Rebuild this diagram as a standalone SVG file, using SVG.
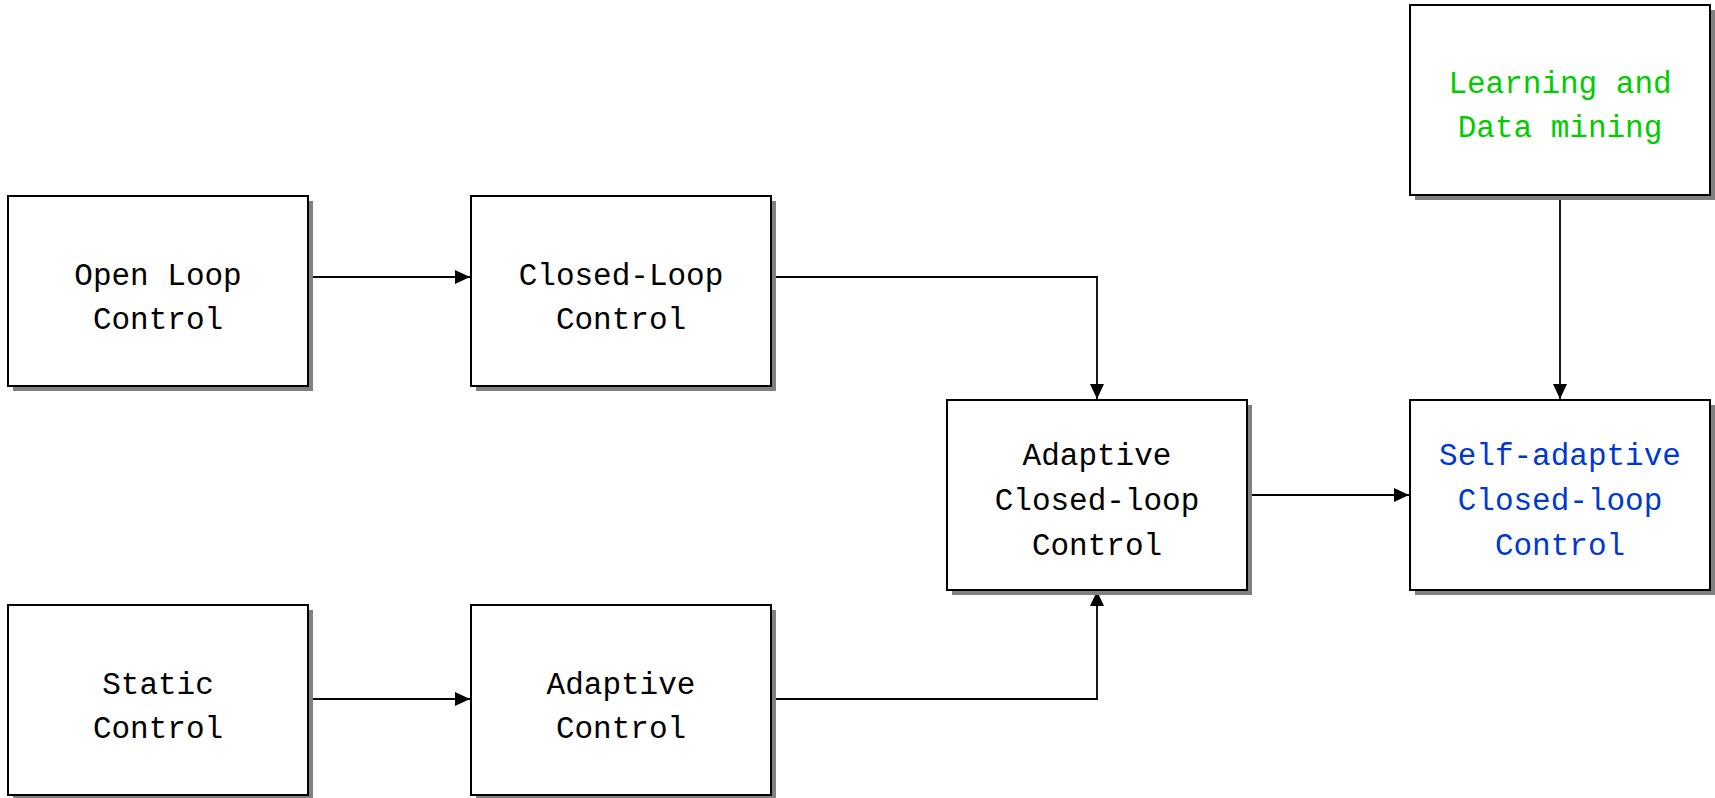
<svg xmlns="http://www.w3.org/2000/svg" width="1715" height="798" viewBox="0 0 1715 798">
<style>
.shadow{fill:#808080;stroke:none}
.box{fill:#ffffff;stroke:#000000;stroke-width:2}
.t{font-family:"Liberation Mono","DejaVu Sans Mono",monospace;font-size:31px;text-anchor:middle;fill:#000000}
.green{fill:#00cc00}
.blue{fill:#0038d0}
.conn{fill:none;stroke:#000000;stroke-width:1.8}
</style>
<defs>
<marker id="arrow" markerUnits="userSpaceOnUse" markerWidth="16" markerHeight="14" refX="15" refY="7" orient="auto">
<path d="M0,0 L15,7 L0,14 z" fill="#000000"/>
</marker>
</defs>
<g id="connectors">
<path class="conn" d="M308,277 H470" marker-end="url(#arrow)"/>
<path class="conn" d="M771,277 H1097 V399" marker-end="url(#arrow)"/>
<path class="conn" d="M308,699 H470" marker-end="url(#arrow)"/>
<path class="conn" d="M771,699 H1097 V591" marker-end="url(#arrow)"/>
<path class="conn" d="M1247,495 H1409" marker-end="url(#arrow)"/>
<path class="conn" d="M1560,195 V399" marker-end="url(#arrow)"/>
</g>
<g id="open-loop">
<rect class="shadow" x="13" y="201" width="300" height="190"/>
<rect class="box" x="8" y="196" width="300" height="190"/>
<text class="t" x="158" y="285">Open Loop</text>
<text class="t" x="158" y="329">Control</text>
</g>
<g id="closed-loop">
<rect class="shadow" x="476" y="201" width="300" height="190"/>
<rect class="box" x="471" y="196" width="300" height="190"/>
<text class="t" x="621" y="285">Closed-Loop</text>
<text class="t" x="621" y="329">Control</text>
</g>
<g id="static">
<rect class="shadow" x="13" y="610" width="300" height="190"/>
<rect class="box" x="8" y="605" width="300" height="190"/>
<text class="t" x="158" y="694">Static</text>
<text class="t" x="158" y="738">Control</text>
</g>
<g id="adaptive">
<rect class="shadow" x="476" y="610" width="300" height="190"/>
<rect class="box" x="471" y="605" width="300" height="190"/>
<text class="t" x="621" y="694">Adaptive</text>
<text class="t" x="621" y="738">Control</text>
</g>
<g id="adaptive-closed-loop">
<rect class="shadow" x="952" y="405" width="300" height="190"/>
<rect class="box" x="947" y="400" width="300" height="190"/>
<text class="t" x="1097" y="465">Adaptive</text>
<text class="t" x="1097" y="510">Closed-loop</text>
<text class="t" x="1097" y="555">Control</text>
</g>
<g id="self-adaptive">
<rect class="shadow" x="1415" y="405" width="300" height="190"/>
<rect class="box" x="1410" y="400" width="300" height="190"/>
<text class="t blue" x="1560" y="465">Self-adaptive</text>
<text class="t blue" x="1560" y="510">Closed-loop</text>
<text class="t blue" x="1560" y="555">Control</text>
</g>
<g id="learning">
<rect class="shadow" x="1415" y="10" width="300" height="190"/>
<rect class="box" x="1410" y="5" width="300" height="190"/>
<text class="t green" x="1560" y="93">Learning and</text>
<text class="t green" x="1560" y="137">Data mining</text>
</g>
</svg>
